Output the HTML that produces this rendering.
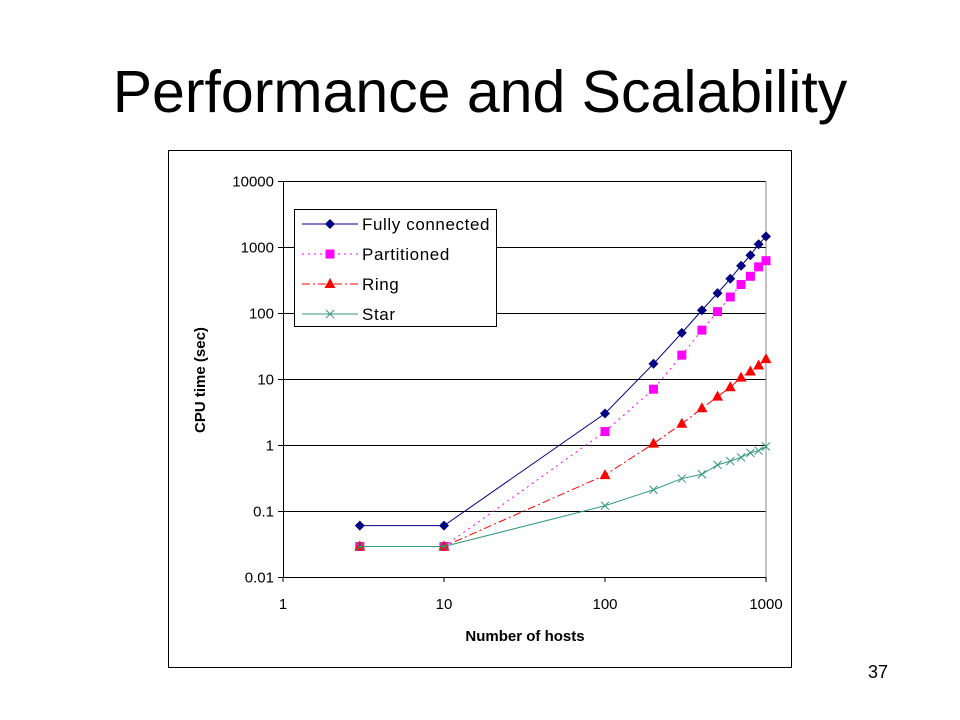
<!DOCTYPE html>
<html><head><meta charset="utf-8"><style>
body{margin:0;width:960px;height:720px;background:#fff;overflow:hidden;font-family:"Liberation Sans",Arial,sans-serif}
#title{position:absolute;left:0;width:960px;top:58px;text-align:center;font-size:59px;line-height:68px;color:#000}
#pg{position:absolute;left:868px;top:662px;font-size:18px}
svg{position:absolute;left:0;top:0}
</style></head><body>
<div id="title">Performance and Scalability</div>
<div id="pg">37</div>
<svg id="c" width="960" height="720"></svg>
<script>
const xs=[3,10,100,200,300,400,500,600,700,800,900,1000];
const fully=[0.06,0.06,3,17,50,110,200,330,520,750,1100,1450];
const part=[0.029,0.029,1.6,7,23,55,105,175,270,360,500,620];
const ring=[0.029,0.029,0.35,1.05,2.1,3.6,5.4,7.5,10.5,13,16,20];
const star=[0.029,0.029,0.12,0.21,0.31,0.36,0.5,0.57,0.65,0.76,0.82,0.95];
const yTicks=["10000","1000","100","10","1","0.1","0.01"];
const xTicks=["1","10","100","1000"];
const NS="http://www.w3.org/2000/svg",svg=document.getElementById('c');
const X=v=>283+161*Math.log10(v), Y=v=>181+66*(4-Math.log10(v));
function mk(t,a,p){const e=document.createElementNS(NS,t);for(const k in a)e.setAttribute(k,a[k]);(p||svg).appendChild(e);return e;}
let fr=mk('rect',{x:168.5,y:150.5,width:623,height:517,fill:'#fff',stroke:'#000'});

yTicks.forEach(t=>{const v=+t,y=Math.round(Y(v))+0.5;
 if(v!==0.01){const g=mk('line',{x1:283,x2:766,y1:y,y2:y,stroke:'#000'});}
 mk('line',{x1:278,x2:283,y1:y,y2:y,stroke:'#000'});
 const tx=mk('text',{x:274,y:y+5,'text-anchor':'end','font-size':15});tx.textContent=t;
 });
xTicks.forEach(t=>{const x=X(+t);mk('line',{x1:x,x2:x,y1:577,y2:582,stroke:'#000'});
 const tx=mk('text',{x:x,y:609,'text-anchor':'middle','font-size':15});tx.textContent=t;
 });
mk('line',{x1:283.5,x2:283.5,y1:181,y2:577,stroke:'#000'});
mk('line',{x1:283,x2:766,y1:577.5,y2:577.5,stroke:'#000'});
mk('line',{x1:766,x2:766,y1:181,y2:577,stroke:'#888'});
let xt=mk('text',{x:525,y:641,'text-anchor':'middle','font-size':15,'font-weight':'bold'});xt.textContent='Number of hosts';

let yt=mk('text',{x:0,y:0,transform:'translate(205,380) rotate(-90)','text-anchor':'middle','font-size':15,'font-weight':'bold'});yt.textContent='CPU time (sec)';

function marker(k,x,y,col,p){
 if(k==='d')return mk('polygon',{points:`${x},${y-5} ${x+5},${y} ${x},${y+5} ${x-5},${y}`,fill:col},p);
 if(k==='s')return mk('rect',{x:x-4.5,y:y-4.5,width:9,height:9,fill:col},p);
 if(k==='t')return mk('polygon',{points:`${x},${y-6} ${x+5.5},${y+4} ${x-5.5},${y+4}`,fill:col},p);
 const g=mk('g',{},p);mk('line',{x1:x-4,y1:y-4,x2:x+4,y2:y+4,stroke:col},g);mk('line',{x1:x-4,y1:y+4,x2:x+4,y2:y-4,stroke:col},g);return g;}
const series=[[fully,'#000080','','d','Fully connected','series-fully-connected'],[part,'#ff00ff','2,4','s','Partitioned','series-partitioned'],[ring,'#ff0000','8,3,2,3','t','Ring','series-ring'],[star,'#339977','','x','Star','series-star']];
series.forEach(([d,col,da,m,name,dn])=>{const g=mk('g',{});
 mk('polyline',{points:d.map((v,i)=>X(xs[i])+','+Y(v)).join(' '),fill:'none',stroke:col,'stroke-dasharray':da},g);
 d.forEach((v,i)=>marker(m,X(xs[i]),Y(v),col,g));});
const lg=mk('g',{});
mk('rect',{x:294.5,y:209.5,width:202,height:117,fill:'#fff',stroke:'#000'},lg);
series.forEach(([d,col,da,m,name],i)=>{const y=224+30*i;const e=mk('g',{},lg);
 
 mk('line',{x1:302,x2:358,y1:y,y2:y,stroke:col,'stroke-dasharray':da},e);
 marker(m,330,y,col,e);
 const t=mk('text',{x:362,y:y+6,'font-size':17,'letter-spacing':'0.6'},e);t.textContent=name;});
</script>
</body></html>
